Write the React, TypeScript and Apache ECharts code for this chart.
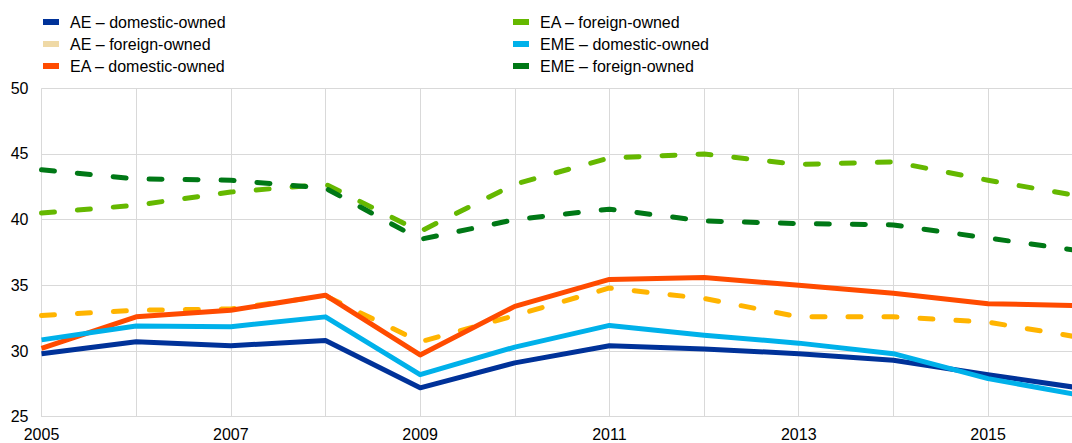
import React, { useEffect, useRef } from "react";
import * as echarts from "echarts";

const years = [2005, 2006, 2007, 2008, 2009, 2010, 2011, 2012, 2013, 2014, 2015, 2016];

const aeDomestic = [29.8, 30.7, 30.4, 30.8, 27.2, 29.1, 30.4, 30.15, 29.8, 29.3, 28.2, 27.15];
const aeForeign = [32.7, 33.1, 33.2, 34.2, 30.7, 32.7, 34.8, 34.0, 32.6, 32.6, 32.2, 31.0];
const eaDomestic = [30.2, 32.6, 33.1, 34.25, 29.7, 33.4, 35.45, 35.6, 35.0, 34.4, 33.6, 33.45];
const eaForeign = [40.5, 41.1, 42.1, 42.7, 39.1, 42.7, 44.7, 45.0, 44.2, 44.4, 43.0, 41.75];
const emeDomestic = [30.85, 31.9, 31.85, 32.6, 28.2, 30.3, 31.95, 31.2, 30.6, 29.8, 27.9, 26.6];
const emeForeign = [43.8, 43.1, 43.0, 42.4, 38.5, 40.0, 40.8, 39.9, 39.7, 39.6, 38.6, 37.6];

const seriesNames = [
  "AE – domestic-owned",
  "AE – foreign-owned",
  "EA – domestic-owned",
  "EA – foreign-owned",
  "EME – domestic-owned",
  "EME – foreign-owned",
];
const seriesData = [aeDomestic, aeForeign, eaDomestic, eaForeign, emeDomestic, emeForeign];
const seriesColors = ["#003299", "#FFB400", "#FF4B00", "#65B800", "#00B1EA", "#007816"];
const seriesDashed = [false, true, false, true, false, true];

const yTicks = { min: 25, max: 50, interval: 5 };

export default function App() {
  const ref = useRef<HTMLDivElement>(null);
  useEffect(() => {
    if (!ref.current) return;
    const chart = echarts.init(ref.current, null, { renderer: "svg" });
    const font = "'Liberation Sans', Arial, sans-serif";
    const legendText = {
      color: "#000",
      fontSize: 16,
      fontFamily: font,
      lineHeight: 16,
      padding: [0, 0, 0, 6],
    };
    const legendItem = (i: number) =>
      i === 1
        ? { name: seriesNames[i], itemStyle: { color: "#EFD9A6" } }
        : { name: seriesNames[i] };
    chart.setOption({
      animation: false,
      backgroundColor: "#fff",
      legend: [
        {
          left: 38,
          top: 9,
          orient: "vertical",
          icon: "rect",
          itemWidth: 16,
          itemHeight: 6,
          itemGap: 6,
          selectedMode: false,
          textStyle: legendText,
          data: [0, 1, 2].map(legendItem),
        },
        {
          left: 508,
          top: 9,
          orient: "vertical",
          icon: "rect",
          itemWidth: 16,
          itemHeight: 6,
          itemGap: 6,
          selectedMode: false,
          textStyle: legendText,
          data: [3, 4, 5].map(legendItem),
        },
      ],
      grid: {
        left: 41.5,
        top: 88.3,
        right: -10.7,
        bottom: 26.3,
        containLabel: false,
        outerBoundsMode: "none",
      },
      xAxis: {
        type: "value",
        min: years[0],
        max: years[years.length - 1],
        interval: 1,
        axisLine: { show: true, lineStyle: { color: "#d9d9d9", width: 1 } },
        axisTick: { show: false },
        splitLine: { show: true, lineStyle: { color: "#d9d9d9", width: 1 } },
        axisLabel: {
          color: "#000",
          fontSize: 16,
          fontFamily: font,
          margin: 10,
          formatter: (v: number) => (v % 2 === 1 ? String(v) : ""),
        },
      },
      yAxis: {
        type: "value",
        min: yTicks.min,
        max: yTicks.max,
        interval: yTicks.interval,
        axisLine: { show: false },
        axisTick: { show: false },
        splitLine: { show: true, lineStyle: { color: "#d9d9d9", width: 1 } },
        axisLabel: { color: "#000", fontSize: 16, fontFamily: font, margin: 13 },
      },
      series: seriesNames.map((name, i) => ({
        name,
        type: "line",
        data: years.map((y, j) => [y, seriesData[i][j]]),
        showSymbol: false,
        symbol: "none",
        color: seriesColors[i],
        lineStyle: {
          color: seriesColors[i],
          width: 5,
          type: seriesDashed[i] ? [13, 23] : "solid",
          cap: seriesDashed[i] ? "round" : "butt",
          join: "round",
        },
        z: 2 + i,
      })),
    });
    return () => chart.dispose();
  }, []);
  return (
    <div
      ref={ref}
      style={{ position: "fixed", left: 0, top: 0, width: 1072, height: 443, overflow: "hidden" }}
    />
  );
}
